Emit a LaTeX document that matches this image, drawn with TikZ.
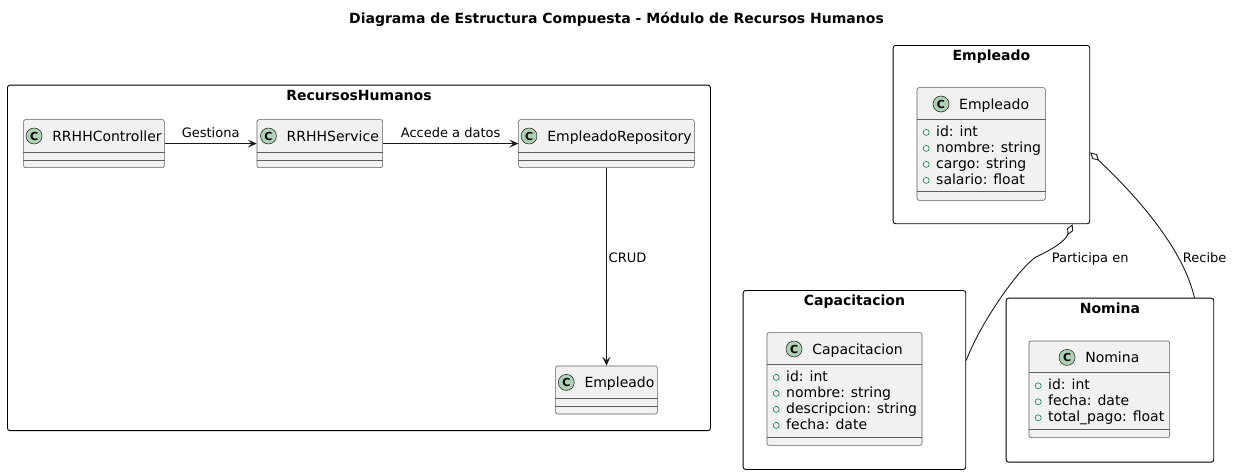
\documentclass[tikz,border=0pt]{standalone}
\usepackage{fontspec}
\setmainfont{DejaVu Sans}
\usetikzlibrary{arrows.meta}
\definecolor{clsfill}{HTML}{F1F1F1}
\definecolor{clsline}{HTML}{181818}
\definecolor{boxline}{HTML}{5E5E5E}
\definecolor{circfill}{HTML}{ADD1B2}
\definecolor{visgreen}{HTML}{038048}
\tikzset{
  frame/.style={draw=black, line width=0.9pt, rounded corners=2.5pt, anchor=north west, inner sep=0, fill=white},
  cls/.style={draw=boxline, line width=0.6pt, fill=clsfill, rounded corners=2pt, anchor=north west, inner sep=0},
  sepline/.style={draw=boxline, line width=0.6pt},
  cc/.style={circle, draw=clsline, line width=0.5pt, fill=circfill, minimum size=16pt, inner sep=0, font=\fontsize{11}{11}\selectfont\bfseries},
  cname/.style={anchor=base west, inner sep=0, font=\fontsize{14}{16}\selectfont},
  vis/.style={circle, draw=visgreen, line width=0.6pt, minimum size=6pt, inner sep=0},
  ftitle/.style={anchor=base, inner sep=0, font=\fontsize{14}{16}\selectfont\bfseries},
  lbl/.style={inner sep=0, font=\fontsize{13}{15}\selectfont},
  conn/.style={draw=clsline, line width=0.9pt},
  arr/.style={-{Stealth[length=9pt,width=8pt,inset=4pt]}},
  diam/.style={{Diamond[length=12pt,width=6.5pt,fill=white]}-}
}
\newcommand{\clshead}[2]{%
  \node[cname, anchor=base] (#1N) at ([xshift=13pt,yshift=-21.7pt]#1.north) {#2};
  \node[cc] (#1C) at ([xshift=-18pt,yshift=5pt]#1N.base west) {C};
}
\newcommand{\plaincls}[5]{% name, x, y, width, text
  \node[cls, minimum width=#4, minimum height=48pt] (#1) at (#2,#3) {};
  \draw[sepline] ([yshift=-33pt]#1.north west) -- ([yshift=-33pt]#1.north east);
  \draw[sepline] ([yshift=-40.7pt]#1.north west) -- ([yshift=-40.7pt]#1.north east);
  \clshead{#1}{#5}
}
\newcommand{\attrline}[4]{% node, idx, baseline offset, text
  \node[cname] (#1a#2) at ([xshift=19.3pt,yshift=-#3pt]#1.north west) {#4};
  \node[vis] (#1v#2) at ([xshift=9.5pt,yshift=-#3pt+3.6pt]#1.north west) {};
}
\begin{document}
\begin{tikzpicture}[x=1pt,y=-1pt]
\useasboundingbox (0,0) rectangle (1233,474);

\node[ftitle] (title) at (616.5,23) {Diagrama de Estructura Compuesta - Módulo de Recursos Humanos};

% frames
\node[frame, minimum width=703pt, minimum height=345.5pt] (rrhh) at (7,84.7) {};
\node[ftitle] (rrhhT) at ([yshift=-15.3pt]rrhh.north) {RecursosHumanos};
\node[frame, minimum width=196.6pt, minimum height=178.3pt] (empf) at (892.7,45) {};
\node[ftitle] (empfT) at ([yshift=-15.3pt]empf.north) {Empleado};
\node[frame, minimum width=222.6pt, minimum height=179pt] (capf) at (742.7,290) {};
\node[ftitle] (capfT) at ([yshift=-15.3pt]capf.north) {Capacitacion};
\node[frame, minimum width=207.6pt, minimum height=164pt] (nomf) at (1005.7,297.7) {};
\node[ftitle] (nomfT) at ([yshift=-15.3pt]nomf.north) {Nomina};

% RecursosHumanos classes
\plaincls{ctrl}{23.3}{119.3}{140.7pt}{RRHHController}
\plaincls{svc}{256.7}{119.3}{125.6pt}{RRHHService}
\plaincls{repo}{518.3}{119.3}{175.7pt}{EmpleadoRepository}
\plaincls{emp1}{555.3}{365.7}{101.7pt}{Empleado}

\draw[conn, arr] (ctrl.east) -- node[lbl, anchor=base, yshift=5.8pt] (lGest) {Gestiona} (svc.west);
\draw[conn, arr] (svc.east) -- node[lbl, anchor=base, yshift=5.8pt] (lAcc) {Accede a datos} (repo.west);
\draw[conn, arr] (repo.south) -- node[lbl, anchor=base west, pos=0.477, xshift=1.8pt] (lCrud) {CRUD} (repo.south |- emp1.north);

% Empleado class
\node[cls, minimum width=128.3pt, minimum height=112.7pt] (empc) at (916.7,87.3) {};
\draw[sepline] ([yshift=-32pt]empc.north west) -- ([yshift=-32pt]empc.north east);
\draw[sepline] ([yshift=-104.4pt]empc.north west) -- ([yshift=-104.4pt]empc.north east);
\clshead{empc}{Empleado}
\attrline{empc}{1}{48.7}{id: int}
\attrline{empc}{2}{64.7}{nombre: string}
\attrline{empc}{3}{80.7}{cargo: string}
\attrline{empc}{4}{96.7}{salario: float}

% Capacitacion class
\node[cls, minimum width=155pt, minimum height=112.7pt] (capc) at (766.7,332.3) {};
\draw[sepline] ([yshift=-32pt]capc.north west) -- ([yshift=-32pt]capc.north east);
\draw[sepline] ([yshift=-105pt]capc.north west) -- ([yshift=-105pt]capc.north east);
\clshead{capc}{Capacitacion}
\attrline{capc}{1}{48.7}{id: int}
\attrline{capc}{2}{64.7}{nombre: string}
\attrline{capc}{3}{80.7}{descripcion: string}
\attrline{capc}{4}{96.7}{fecha: date}

% Nomina class
\node[cls, minimum width=140.6pt, minimum height=96.6pt] (nomc) at (1028.7,340.7) {};
\draw[sepline] ([yshift=-31.8pt]nomc.north west) -- ([yshift=-31.8pt]nomc.north east);
\draw[sepline] ([yshift=-88.6pt]nomc.north west) -- ([yshift=-88.6pt]nomc.north east);
\clshead{nomc}{Nomina}
\attrline{nomc}{1}{48.7}{id: int}
\attrline{nomc}{2}{64.7}{fecha: date}
\attrline{nomc}{3}{80.7}{total\_pago: float}

% aggregations
\coordinate (pm) at (1036,257);
\draw[conn, diam] ([xshift=-17.6pt]empf.south east) .. controls +(-7.7,16.7) and +(19,-9) .. (pm)
  .. controls +(-16,10) and +(14.7,-39) .. ([yshift=19.5pt]capf.east);
\draw[conn, diam] ([yshift=-17.8pt]empf.east) .. controls +(51,48) and +(-11,-47) .. ([xshift=84.5pt]nomf.north);
\node[lbl, anchor=base west] (lPart) at (1051.7,262) {Participa en};
\node[lbl, anchor=base west] (lRec) at (1182.7,262) {Recibe};
\end{tikzpicture}
\end{document}
